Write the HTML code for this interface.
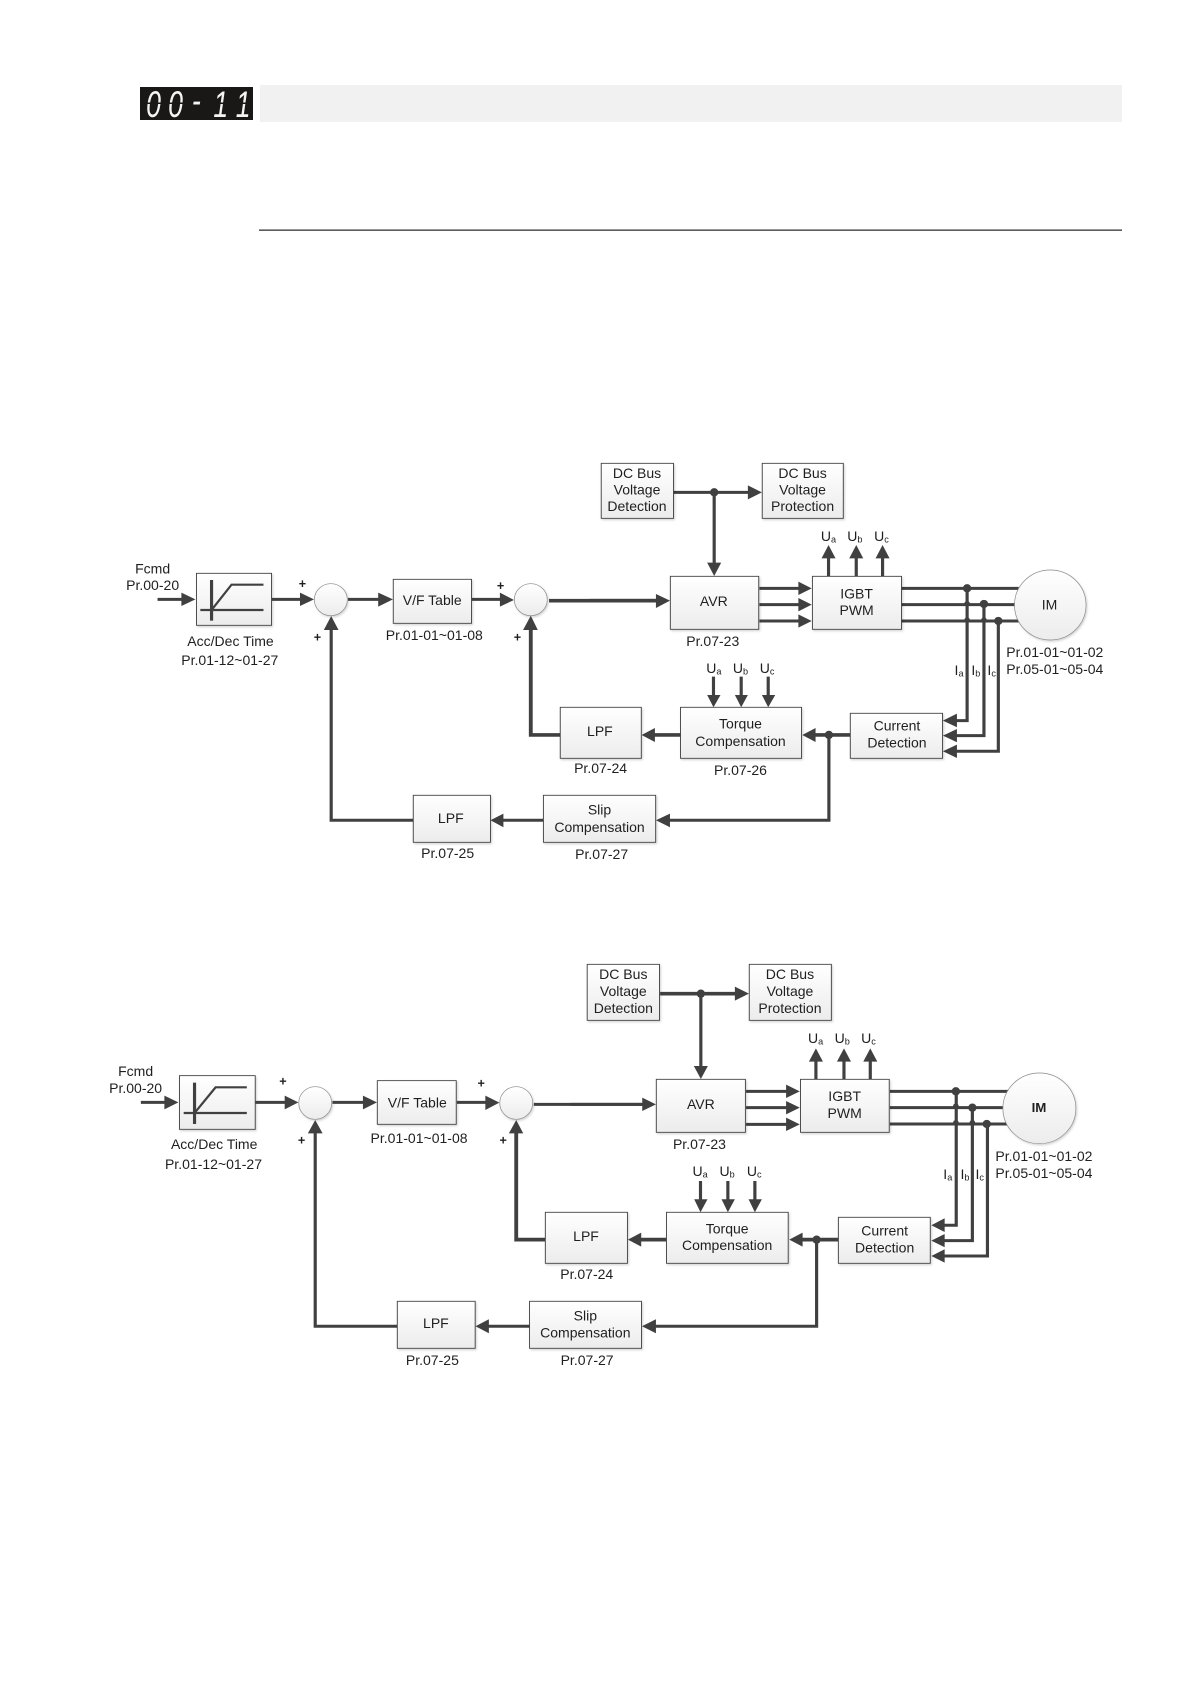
<!DOCTYPE html>
<html>
<head>
<meta charset="utf-8">
<title>00-11</title>
<style>
html,body{margin:0;padding:0;background:#fff}
svg{display:block}
text{font-family:"Liberation Sans",sans-serif;font-size:40px;fill:#1f1f1f;text-anchor:middle}
.d text{transform-box:fill-box;transform-origin:center;transform:scaleY(1.052)}
.l{fill:none;stroke:#404040;stroke-width:9}
.t{fill:none;stroke:#404040;stroke-width:11}
.a{fill:#404040;stroke:none}
.b{fill:url(#g);stroke:#404040;stroke-width:2.600;filter:url(#s)}
.c{fill:url(#g);stroke:#8a8a8a;stroke-width:2;filter:url(#s)}
.p{font-weight:bold;font-size:36px}
.sub{font-size:26px}
</style>
</head>
<body>
<svg width="1190" height="1684" viewBox="0 0 1190 1684" xmlns="http://www.w3.org/2000/svg">
<defs>
<linearGradient id="g" x1="0" y1="0" x2="0" y2="1">
<stop offset="0" stop-color="#ffffff"/><stop offset="1" stop-color="#ececec"/>
</linearGradient>
<filter id="s" x="-10%" y="-10%" width="125%" height="125%">
<feDropShadow dx="3" dy="4" stdDeviation="3" flood-color="#000" flood-opacity=".18"/>
</filter>
</defs>
<rect width="1190" height="1684" fill="#fff"/>

<!-- header -->
<rect x="140" y="87" width="113" height="33" fill="#1a1817"/>
<g transform="translate(140 87)">
<text transform="scale(.72 1)" y="30" x="0" style="font-size:37px;font-style:italic;fill:#f4f4f4;text-anchor:start"><tspan x="8.600">0</tspan><tspan x="39">0</tspan><tspan x="72" dy="-4">-</tspan><tspan x="102" dy="4">1</tspan><tspan x="133">1</tspan></text>
<rect x="4" y="15.500" width="44" height="1.500" fill="#1a1817"/>
<rect x="70" y="15.500" width="40" height="1.500" fill="#1a1817"/>
</g>
<rect x="260" y="85" width="862" height="37" fill="#f1f1f1"/>
<rect x="259" y="229.500" width="863" height="1.300" fill="#333"/>

<!-- DIAGRAM 1 LEFT -->
<g class="d" transform="translate(100 450) scale(.3508 .3333)">
<text x="150" y="370">Fcmd</text>
<text x="150" y="420">Pr.00-20</text>
<path class="l" d="M164 448H240"/><polygon class="a" points="232,428 272,448 232,468"/>
<rect class="b" x="275" y="370" width="214" height="156"/>
<path class="l" d="M318 390V512"/><path class="l" style="stroke-width:6.500" d="M286 480H466"/><path class="l" style="stroke-width:6.500" d="M318 480L375 404H466"/>
<text x="372" y="588">Acc/Dec Time</text>
<text x="370" y="645">Pr.01-12~01-27</text>
<path class="l" d="M489 448H580"/><polygon class="a" points="570,428 610,448 570,468"/>
<ellipse class="c" cx="658" cy="449" rx="47" ry="48"/>
<path class="l" d="M707 448H800"/><polygon class="a" points="793,428 835,448 793,470"/>
<rect class="b" x="836" y="388" width="223" height="132"/>
<text x="947" y="465">V/F Table</text>
<text x="953" y="570">Pr.01-01~01-08</text>
<path class="l" d="M1060 448H1150"/><polygon class="a" points="1140,428 1180,450 1140,470"/>
<ellipse class="c" cx="1228" cy="449" rx="47" ry="48"/>
<path class="t" d="M1280 452H1600"/>
<path class="t" d="M1312 855H1228V530"/><polygon class="a" points="1206,540 1228,497 1248,540"/>
<path class="l" d="M893 1111H659V530"/><polygon class="a" points="638,540 659,498 680,540"/>
<path class="l" d="M1264 1111H1140"/><polygon class="a" points="1150,1091 1113,1111 1150,1132"/>
<text class="p" x="577" y="414">+</text>
<text class="p" x="620" y="574">+</text>
<text class="p" x="1142" y="420">+</text>
<text class="p" x="1190" y="574">+</text>
<rect class="b" x="1312" y="772" width="231" height="153"/>
<text x="1425" y="858">LPF</text>
<text x="1427" y="968">Pr.07-24</text>
<rect class="b" x="893" y="1036" width="220" height="141"/>
<text x="1000" y="1119">LPF</text>
<text x="991" y="1224">Pr.07-25</text>
<rect class="b" x="1264" y="1036" width="320" height="141"/>
<text x="1424" y="1093">Slip</text>
<text x="1424" y="1145">Compensation</text>
<text x="1430" y="1226">Pr.07-27</text>
</g>

<!-- DIAGRAM 1 RIGHT -->
<g class="d" transform="translate(590 450) scale(.3508 .3333)">
<path class="t" d="M0 452H190"/><polygon class="a" points="188,432 228,452 188,474"/>
<path class="l" d="M238 127H460"/><polygon class="a" points="450,106 490,127 450,148"/>
<path class="l" d="M354 127V345"/><polygon class="a" points="334,338 354,378 374,338"/>
<ellipse class="a" cx="354" cy="127" rx="12" ry="12.500"/>
<rect class="b" x="32" y="40" width="206" height="165"/>
<text x="134" y="84">DC Bus</text><text x="134" y="133">Voltage</text><text x="134" y="183">Detection</text>
<rect class="b" x="491" y="40" width="231" height="165"/>
<text x="606" y="84">DC Bus</text><text x="606" y="133">Voltage</text><text x="606" y="183">Protection</text>
<path class="l" d="M483 415H600M483 464H600M483 513H600"/>
<polygon class="a" points="594,395 632,415 594,435"/><polygon class="a" points="594,444 632,464 594,484"/><polygon class="a" points="594,493 632,513 594,533"/>
<rect class="b" x="229" y="379" width="252" height="159"/>
<text x="353" y="468">AVR</text>
<text x="350" y="588">Pr.07-23</text>
<path class="l" d="M888 415H1222M888 464H1222M888 513H1222"/>
<path class="l" d="M680 378V320M759 378V320M834 378V320"/>
<polygon class="a" points="660,325 680,285 700,325"/><polygon class="a" points="739,325 759,285 779,325"/><polygon class="a" points="814,325 834,285 854,325"/>
<text x="680" y="272">U<tspan class="sub" dy="4">a</tspan></text>
<text x="755" y="272">U<tspan class="sub" dy="4">b</tspan></text>
<text x="831" y="272">U<tspan class="sub" dy="4">c</tspan></text>
<rect class="b" x="634" y="379" width="254" height="159"/>
<text x="760" y="445">IGBT</text><text x="760" y="495">PWM</text>
<ellipse class="c" cx="1312" cy="465" rx="102" ry="105"/>
<text x="1310" y="478">IM</text>
<path class="l" d="M1075 415V812H1035M1123 464V857H1035M1164 513V904H1035"/>
<polygon class="a" points="1046,791 1006,812 1046,832"/><polygon class="a" points="1046,837 1006,857 1046,877"/><polygon class="a" points="1046,884 1006,904 1046,924"/>
<ellipse class="a" cx="1075" cy="415" rx="12" ry="12.500"/><ellipse class="a" cx="1075" cy="461" rx="8" ry="8"/><ellipse class="a" cx="1075" cy="510" rx="8" ry="8"/>
<ellipse class="a" cx="1123" cy="462" rx="12" ry="12.500"/><ellipse class="a" cx="1123" cy="510" rx="8" ry="8"/><ellipse class="a" cx="1164" cy="513" rx="12" ry="12.500"/>
<text x="1052" y="675">I<tspan class="sub" dy="4">a</tspan></text>
<text x="1100" y="675">I<tspan class="sub" dy="4">b</tspan></text>
<text x="1145" y="675">I<tspan class="sub" dy="4">c</tspan></text>
<text x="1325" y="620">Pr.01-01~01-02</text>
<text x="1325" y="672">Pr.05-01~05-04</text>
<rect class="b" x="742" y="790" width="263" height="135"/>
<text x="875" y="841">Current</text><text x="875" y="892">Detection</text>
<path class="l" d="M352 680V740M431 680V740M508 680V740"/>
<polygon class="a" points="334,735 352,772 372,735"/><polygon class="a" points="413,735 431,772 450,735"/><polygon class="a" points="490,735 508,772 528,735"/>
<text x="353" y="668">U<tspan class="sub" dy="4">a</tspan></text>
<text x="429" y="668">U<tspan class="sub" dy="4">b</tspan></text>
<text x="505" y="668">U<tspan class="sub" dy="4">c</tspan></text>
<rect class="b" x="258" y="772" width="345" height="153"/>
<text x="429" y="835">Torque</text><text x="429" y="887">Compensation</text>
<text x="429" y="975">Pr.07-26</text>
<path class="t" d="M742 855H635M258 855H175"/>
<polygon class="a" points="643,834 605,855 643,876"/><polygon class="a" points="185,834 147,855 185,876"/>
<path class="l" d="M681 855V1111H220"/><polygon class="a" points="228,1091 188,1111 228,1132"/>
<ellipse class="a" cx="681" cy="855" rx="12" ry="12.500"/>
</g>

<!-- DIAGRAM 2 LEFT -->
<g class="d" transform="translate(90 960) scale(.3508 .3333)">
<text x="130" y="348">Fcmd</text>
<text x="130" y="398">Pr.00-20</text>
<path class="l" d="M145 427H220"/><polygon class="a" points="212,407 252,427 212,448"/>
<rect class="b" x="255" y="347" width="216" height="161"/>
<path class="l" d="M298 368V492"/><path class="l" style="stroke-width:6.500" d="M267 459H447"/><path class="l" style="stroke-width:6.500" d="M298 459L358 382H447"/>
<text x="354" y="567">Acc/Dec Time</text>
<text x="352" y="626">Pr.01-12~01-27</text>
<path class="l" d="M472 427H565"/><polygon class="a" points="555,407 594,427 555,448"/>
<ellipse class="c" cx="642" cy="429" rx="47" ry="49"/>
<path class="l" d="M691 427H785"/><polygon class="a" points="778,407 818,427 778,448"/>
<rect class="b" x="819" y="362" width="225" height="131"/>
<text x="933" y="442">V/F Table</text>
<text x="938" y="549">Pr.01-01~01-08</text>
<path class="l" d="M1046 427H1135"/><polygon class="a" points="1127,407 1167,428 1127,450"/>
<ellipse class="c" cx="1215" cy="429" rx="47" ry="49"/>
<path class="l" d="M1265 433H1600"/>
<path class="t" d="M1298 839H1215V510"/><polygon class="a" points="1194,520 1215,480 1235,520"/>
<path class="l" d="M876 1099H642V510"/><polygon class="a" points="621,520 642,480 663,520"/>
<path class="l" d="M1253 1099H1130"/><polygon class="a" points="1137,1078 1099,1099 1137,1120"/>
<text class="p" x="550" y="376">+</text>
<text class="p" x="603" y="553">+</text>
<text class="p" x="1115" y="382">+</text>
<text class="p" x="1178" y="553">+</text>
<rect class="b" x="1298" y="757" width="234" height="153"/>
<text x="1414" y="843">LPF</text>
<text x="1416" y="957">Pr.07-24</text>
<rect class="b" x="876" y="1024" width="222" height="141"/>
<text x="986" y="1104">LPF</text>
<text x="976" y="1214">Pr.07-25</text>
<rect class="b" x="1253" y="1024" width="319" height="141"/>
<text x="1412" y="1081">Slip</text>
<text x="1412" y="1132">Compensation</text>
<text x="1417" y="1214">Pr.07-27</text>
</g>

<!-- DIAGRAM 2 RIGHT -->
<g class="d" transform="translate(570 960) scale(.3508 .3333)">
<path class="l" d="M0 433H212"/><polygon class="a" points="206,413 245,433 206,453"/>
<path class="t" d="M257 101H480"/><polygon class="a" points="470,80 510,101 470,122"/>
<path class="l" d="M373 101V325"/><polygon class="a" points="353,318 373,357 393,318"/>
<ellipse class="a" cx="373" cy="101" rx="12" ry="12.500"/>
<rect class="b" x="49" y="13" width="206" height="168"/>
<text x="152" y="57">DC Bus</text><text x="152" y="108">Voltage</text><text x="152" y="159">Detection</text>
<rect class="b" x="511" y="13" width="234" height="168"/>
<text x="627" y="57">DC Bus</text><text x="627" y="108">Voltage</text><text x="627" y="159">Protection</text>
<path class="l" d="M502 394H622M502 443H622M502 493H622"/>
<polygon class="a" points="616,374 655,394 616,414"/><polygon class="a" points="616,423 655,443 616,463"/><polygon class="a" points="616,473 655,493 616,513"/>
<rect class="b" x="246" y="358" width="254" height="159"/>
<text x="373" y="447">AVR</text>
<text x="369" y="567">Pr.07-23</text>
<path class="l" d="M912 394H1250M912 443H1250M912 492H1250"/>
<path class="l" d="M701 358V300M781 358V300M856 358V300"/>
<polygon class="a" points="681,305 701,265 721,305"/><polygon class="a" points="761,305 781,265 801,305"/><polygon class="a" points="836,305 856,265 876,305"/>
<text x="700" y="248">U<tspan class="sub" dy="4">a</tspan></text>
<text x="776" y="248">U<tspan class="sub" dy="4">b</tspan></text>
<text x="851" y="248">U<tspan class="sub" dy="4">c</tspan></text>
<rect class="b" x="657" y="358" width="253" height="159"/>
<text x="783" y="423">IGBT</text><text x="783" y="473">PWM</text>
<ellipse class="c" cx="1338" cy="445" rx="104" ry="106"/>
<text x="1337" y="455" style="font-weight:bold;font-size:38px">IM</text>
<path class="l" d="M1101 394V796H1060M1147 443V842H1060M1190 492V888H1060"/>
<polygon class="a" points="1068,775 1030,796 1068,816"/><polygon class="a" points="1068,822 1030,842 1068,862"/><polygon class="a" points="1068,868 1030,888 1068,908"/>
<ellipse class="a" cx="1100" cy="394" rx="12" ry="12.500"/><ellipse class="a" cx="1100" cy="438" rx="8" ry="8"/><ellipse class="a" cx="1100" cy="488" rx="8" ry="8"/>
<ellipse class="a" cx="1147" cy="443" rx="12" ry="12.500"/><ellipse class="a" cx="1147" cy="488" rx="8" ry="8"/><ellipse class="a" cx="1188" cy="492" rx="12" ry="12.500"/>
<text x="1077" y="657">I<tspan class="sub" dy="4">a</tspan></text>
<text x="1126" y="657">I<tspan class="sub" dy="4">b</tspan></text>
<text x="1168" y="657">I<tspan class="sub" dy="4">c</tspan></text>
<text x="1351" y="602">Pr.01-01~01-02</text>
<text x="1351" y="653">Pr.05-01~05-04</text>
<rect class="b" x="765" y="772" width="262" height="138"/>
<text x="897" y="826">Current</text><text x="897" y="877">Detection</text>
<path class="l" d="M372 663V722M450 663V722M527 663V722"/>
<polygon class="a" points="354,718 372,757 392,718"/><polygon class="a" points="432,718 450,757 470,718"/><polygon class="a" points="509,718 527,757 547,718"/>
<text x="371" y="648">U<tspan class="sub" dy="4">a</tspan></text>
<text x="448" y="648">U<tspan class="sub" dy="4">b</tspan></text>
<text x="525" y="648">U<tspan class="sub" dy="4">c</tspan></text>
<rect class="b" x="275" y="757" width="347" height="153"/>
<text x="448" y="820">Torque</text><text x="448" y="869">Compensation</text>
<path class="t" d="M765 839H655M275 839H195"/>
<polygon class="a" points="663,818 625,839 663,860"/><polygon class="a" points="203,818 165,839 203,860"/>
<path class="l" d="M703 839V1099H240"/><polygon class="a" points="245,1078 205,1099 245,1120"/>
<ellipse class="a" cx="703" cy="839" rx="12" ry="12.500"/>
</g>
</svg>
</body>
</html>
